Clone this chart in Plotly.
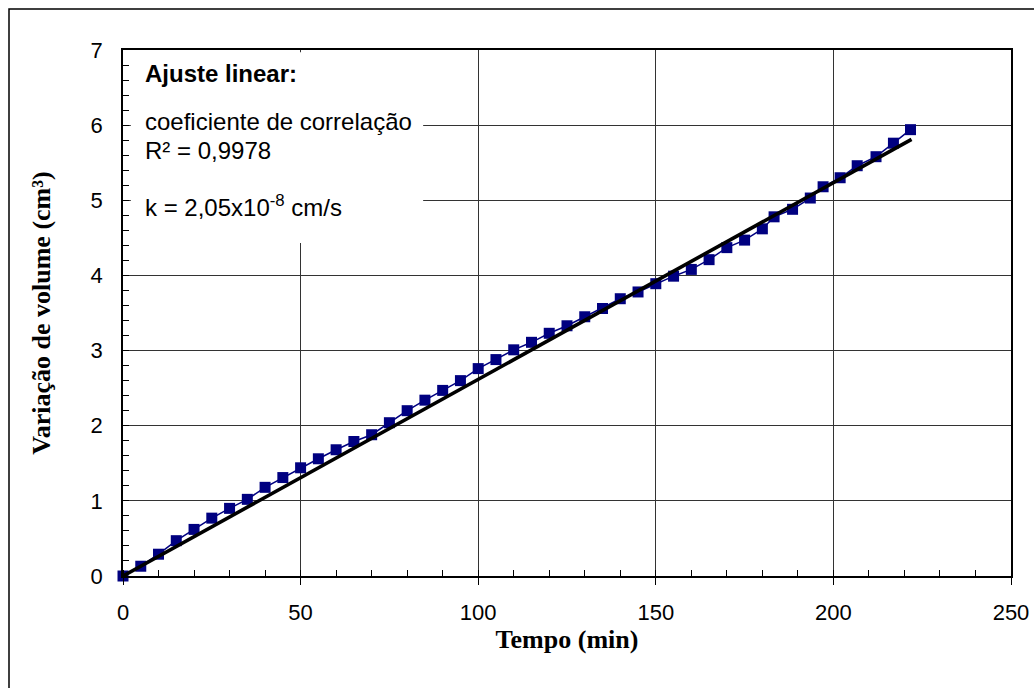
import plotly.graph_objects as go

# Data
tempo = [0, 5, 10, 15, 20, 25, 30, 35, 40, 45, 50, 55, 60, 65, 70, 75, 80, 85, 90, 95,
         100, 105, 110, 115, 120, 125, 130, 135, 140, 145, 150, 155, 160, 165, 170, 175,
         180, 183.3, 188.5, 193.5, 197.1, 201.9, 206.7, 212.0, 216.9, 221.7]
volume = [0.0, 0.13, 0.29, 0.47, 0.62, 0.77, 0.90, 1.02, 1.18, 1.31, 1.44, 1.56, 1.68, 1.79,
          1.88, 2.04, 2.20, 2.34, 2.47, 2.60, 2.76, 2.88, 3.01, 3.11, 3.23, 3.33, 3.45, 3.56,
          3.69, 3.78, 3.89, 3.99, 4.08, 4.21, 4.37, 4.47, 4.62, 4.78, 4.88, 5.03, 5.18, 5.30,
          5.46, 5.58, 5.76, 5.94]

trend_x = [0, 222]
trend_y = [0.0, 5.81]

x_ticks = [0, 50, 100, 150, 200, 250]
y_ticks = [0, 1, 2, 3, 4, 5, 6, 7]

fig = go.Figure()
fig.add_trace(go.Scatter(
    x=tempo, y=volume, mode="lines+markers",
    line=dict(color="#000080", width=1.5),
    marker=dict(symbol="square", size=11, color="#000080"),
    showlegend=False, cliponaxis=False))
fig.add_trace(go.Scatter(
    x=trend_x, y=trend_y, mode="lines",
    line=dict(color="black", width=3.6),
    showlegend=False))

# white text box covering gridlines
fig.add_shape(type="rect", xref="x", yref="y", x0=2.2, x1=84.5, y0=4.43, y1=6.97,
              fillcolor="white", line=dict(width=0), layer="between")

# outer border
fig.add_shape(type="rect", xref="paper", yref="paper",
              x0=(9 - 123) / 888, x1=(1036 - 123) / 888,
              y0=(576 - 692) / 526, y1=(576 - 9) / 526,
              line=dict(color="black", width=1.5), fillcolor="rgba(0,0,0,0)", layer="below")

txt_font = dict(family="Liberation Sans, Arial", size=24, color="black")
def px2y(py):
    return (576 - py) / 526 * 7

fig.add_annotation(x=5.5, y=px2y(73), xref="x", yref="y", text="<b>Ajuste linear:</b>",
                   showarrow=False, xanchor="left", yanchor="middle", font=txt_font)
fig.add_annotation(x=5.5, y=px2y(121), xref="x", yref="y", text="coeficiente de correlação",
                   showarrow=False, xanchor="left", yanchor="middle", font=txt_font)
fig.add_annotation(x=5.5, y=px2y(150), xref="x", yref="y", text="R² = 0,9978",
                   showarrow=False, xanchor="left", yanchor="middle", font=txt_font)
fig.add_annotation(x=5.5, y=px2y(206), xref="x", yref="y", text="k = 2,05x10<sup>-8</sup> cm/s",
                   showarrow=False, xanchor="left", yanchor="middle", font=txt_font)

tick_font = dict(family="Liberation Sans, Arial", size=22, color="black")
title_font = dict(family="Liberation Serif, Times New Roman", size=26, color="black")

fig.update_layout(
    width=1034, height=688,
    margin=dict(l=123, r=23, t=50, b=112, autoexpand=False),
    paper_bgcolor="white", plot_bgcolor="white",
    xaxis=dict(range=[0, 250], tickvals=x_ticks, ticktext=[str(v) for v in x_ticks],
               automargin=False,
               showline=True, linecolor="black", linewidth=1.5, mirror=True,
               showgrid=True, gridcolor="#333333", gridwidth=1,
               ticks="outside", ticklen=7, tickcolor="black", tickwidth=1,
               minor=dict(dtick=10, tick0=0, ticks="inside", ticklen=6, tickcolor="black", showgrid=False),
               tickfont=tick_font, ticklabelstandoff=9, zeroline=False,
               title=dict(text="<b>Tempo (min)</b>", font=title_font, standoff=2)),
    yaxis=dict(range=[0, 7], tickvals=y_ticks, ticktext=[str(v) for v in y_ticks],
               automargin=False,
               showline=True, linecolor="black", linewidth=1.5, mirror=True,
               showgrid=True, gridcolor="#333333", gridwidth=1,
               ticks="inside", ticklen=6, tickcolor="black", tickwidth=1,
               minor=dict(dtick=0.2, tick0=0, ticks="inside", ticklen=6, tickcolor="black", showgrid=False),
               tickfont=tick_font, ticklabelstandoff=14, zeroline=False,
               title=dict(text="<b>Variação de volume (cm³)</b>", font=title_font, standoff=32)),
)

fig.write_html("out.html")
